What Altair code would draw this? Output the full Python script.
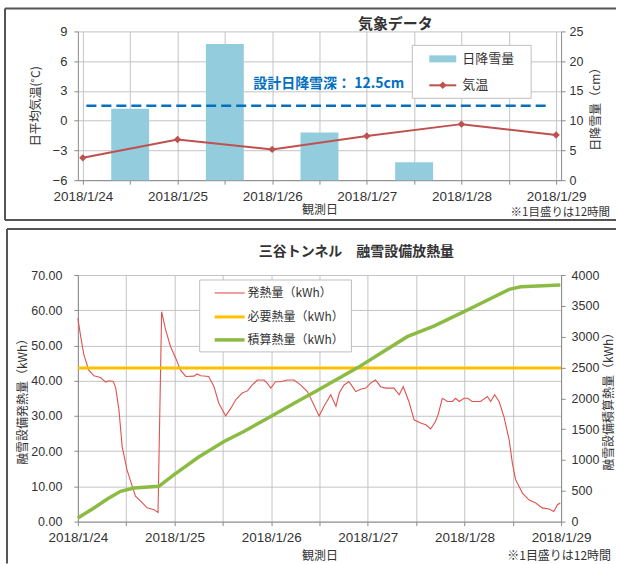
import json
import altair as alt
import pandas as pd

FONT = "Noto Sans CJK JP"
NUM_FONT = "Liberation Sans"

# ---------------- shared x axis ----------------
day_labels = ["2018/1/24", "2018/1/25", "2018/1/26", "2018/1/27", "2018/1/28", "2018/1/29"]
grid_hours = list(range(0, 121, 12))  # hours since 2018/1/24 00:00, one grid line every 12 h
x_title = "観測日"
note_text = "※1目盛りは12時間"

# ---------------- top chart: weather ----------------
top_title = "気象データ"
temp_hours = [0, 24, 48, 72, 96, 120]
temp_values = [-3.75, -1.9, -2.9, -1.55, -0.35, -1.45]
snow_hours = [12, 36, 60, 84, 108]
snow_values = [12.0, 22.9, 8.0, 3.0, 0.0]
design_snow_depth = 12.5
design_label = "設計日降雪深： 12.5cm"
top_series = ["日降雪量", "気温"]

# ---------------- bottom chart: heat ----------------
bottom_title = "三谷トンネル　融雪設備放熱量"
heat_hours = [0, 0.7, 1.5, 2.7, 4.0, 5.6, 6.9, 7.7, 8.8, 9.4, 10.2, 11.0, 12.2, 13.5, 14.3,
              15.6, 17.2, 18.9, 19.9, 20.8, 21.8, 23.0, 24.3, 25.5, 26.8, 28.8, 29.6, 30.5,
              32.5, 33.8, 35.0, 36.7, 38.0, 39.2, 40.8, 42.1, 43.3, 44.6, 46.2, 47.0, 47.9,
              49.1, 50.4, 52.0, 53.7, 55.3, 57.0, 58.2, 59.9, 61.1, 62.8, 64.1, 64.9, 66.1,
              67.3, 67.9, 69.0, 70.2, 71.5, 72.7, 73.9, 75.2, 76.4, 78.5, 79.8, 80.8, 82.2,
              83.5, 85.1, 86.4, 87.6, 88.8, 89.5, 90.5, 91.8, 93.0, 93.8, 94.7, 95.9, 96.8,
              97.9, 100.0, 101.7, 102.5, 103.5, 104.6, 105.8, 107.1, 107.9, 108.7, 110.4,
              112.0, 113.7, 115.3, 117.0, 118.2, 119.1, 119.8]
heat_values = [57.7, 52.5, 47.3, 43.0, 41.4, 40.9, 39.6, 40.0, 39.8, 37.9, 31.7, 21.3, 14.7, 10.0, 7.2,
               5.8, 3.9, 3.4, 2.6, 59.6, 54.4, 49.7, 46.4, 43.0, 41.2, 41.3, 41.9, 41.4,
               41.2, 38.3, 33.6, 30.0, 32.2, 34.6, 36.5, 37.1, 38.8, 40.2, 40.2, 39.3, 37.9,
               39.7, 39.7, 40.2, 40.2, 38.8, 36.9, 34.1, 30.0, 32.7, 36.0, 32.7, 36.5, 38.8,
               39.7, 38.8, 36.9, 37.6, 37.9, 39.3, 40.2, 38.3, 37.9, 37.9, 36.0, 38.3, 34.1,
               28.9, 28.0, 27.5, 26.3, 28.4, 30.5, 35.0, 34.1, 34.1, 35.0, 34.1, 35.0, 35.0,
               34.1, 34.1, 35.5, 34.1, 36.0, 34.1, 29.8, 23.2, 16.6, 11.9, 8.1,
               6.2, 5.3, 3.9, 3.6, 2.9, 4.8, 5.3]
cum_hours = [0, 4, 7.3, 10.6, 13.9, 20.1, 23.9, 30, 36.3, 41.2, 47.9, 53.7, 59.0, 69.5,
             75.2, 81.8, 88.4, 95.9, 100.9, 107.1, 110, 119.8]
cum_values = [60, 222, 367, 491, 545, 572, 761, 1047, 1300, 1462, 1705, 1921, 2110, 2498,
              2731, 3000, 3170, 3405, 3567, 3767, 3810, 3837]
required_hours = [0, 120]
required_values = [43.6, 43.6]
bottom_series = ["発熱量（kWh）", "必要熱量（kWh）", "積算熱量（kWh）"]

W = 484
H1 = 149
H2 = 247

C_BAR = "#93cddd"
C_TEMP = "#c0504d"
C_DESIGN = "#0070c0"
C_HEAT = "#e0524e"
C_REQ = "#ffc000"
C_CUM = "#8cbb44"
TXT = "#333333"

label_expr = ("datum.value % 24 == 0 ? " + json.dumps(day_labels, ensure_ascii=False)
              + "[datum.value / 24] : ''")
x_scale = alt.Scale(domain=[0, 120], nice=False, zero=False)


def x_axis(title_pad, label_pad):
    return alt.Axis(values=grid_hours, labelExpr=label_expr, title=x_title, grid=True,
                    labelPadding=label_pad, titlePadding=title_pad, labelFontSize=13.5,
                    labelOverlap=False, labelFlush=False)


one = pd.DataFrame({"k": [0]})


def frame_rule(x1, x2, y1, y2):
    return alt.Chart(one).mark_rule(color="#555555", strokeWidth=2).encode(
        x=alt.value(x1), x2=alt.value(x2), y=alt.value(y1), y2=alt.value(y2))


def label(text, x, y, size=12, align="left", weight="normal", color=TXT):
    return alt.Chart(one).mark_text(text=text, font=FONT, fontSize=size, align=align,
                                    baseline="middle", fontWeight=weight, color=color).encode(
        x=alt.value(x), y=alt.value(y))


# ---------------- top chart ----------------
snow_df = pd.DataFrame({"h": snow_hours, "cm": snow_values})
temp_df = pd.DataFrame({"h": temp_hours, "t": temp_values})
design_df = pd.DataFrame({"h": [0.9], "h1": [118.5], "cm": [design_snow_depth]})

top_x_axis = x_axis(2, 5)
cm_scale = alt.Scale(domain=[0, 25], nice=False)
cm_axis = alt.Axis(orient="right", values=[0, 5, 10, 15, 20, 25], title="日降雪量（cm）",
                   grid=False, titleAngle=270, titleBaseline="top", labelPadding=4, titlePadding=8)

bars = alt.Chart(snow_df).mark_bar(color=C_BAR, size=38).encode(
    x=alt.X("h:Q", scale=x_scale, axis=top_x_axis),
    y=alt.Y("cm:Q", scale=cm_scale, axis=cm_axis),
)
design_rule = alt.Chart(design_df).mark_rule(color=C_DESIGN, strokeWidth=2.5, strokeDash=[10, 5]).encode(
    x=alt.X("h:Q", scale=x_scale, axis=top_x_axis), x2="h1:Q",
    y=alt.Y("cm:Q", scale=cm_scale, axis=cm_axis),
)
design_text = alt.Chart(one).mark_text(text=design_label, font=FONT, fontSize=14, fontWeight="bold",
                                       color=C_DESIGN, align="left", baseline="middle").encode(
    x=alt.XDatum(43.2, scale=x_scale, axis=top_x_axis),
    y=alt.YDatum(16.1, scale=cm_scale, axis=cm_axis))
cm_layer = alt.layer(bars, design_rule, design_text)

temp_line = alt.Chart(temp_df).mark_line(
    color=C_TEMP, strokeWidth=2,
    point=alt.OverlayMarkDef(shape="diamond", size=55, color=C_TEMP, filled=True, opacity=1)).encode(
    x=alt.X("h:Q", scale=x_scale, axis=top_x_axis),
    y=alt.Y("t:Q", scale=alt.Scale(domain=[-6, 9], nice=False, zero=False),
            axis=alt.Axis(orient="left", values=[-6, -3, 0, 3, 6, 9], title="日平均気温(°C)",
                          grid=True, labelPadding=7, titlePadding=10, labelFontSize=13)),
)

top_legend = [
    alt.Chart(one).mark_rect(fill="white", stroke="#bfbfbf", strokeWidth=1).encode(
        x=alt.value(335), x2=alt.value(454), y=alt.value(14), y2=alt.value(67)),
    alt.Chart(one).mark_rect(color=C_BAR).encode(
        x=alt.value(352), x2=alt.value(379), y=alt.value(24), y2=alt.value(31)),
    label(top_series[0], 385, 27.5, size=13),
    alt.Chart(one).mark_rule(color=C_TEMP, strokeWidth=2).encode(
        x=alt.value(352), x2=alt.value(379), y=alt.value(54)),
    alt.Chart(one).mark_point(shape="diamond", size=55, filled=True, color=C_TEMP, opacity=1).encode(
        x=alt.value(365.5), y=alt.value(54)),
    label(top_series[1], 385, 54, size=13),
]

top_extras = [
    frame_rule(-73, 539, -23, -23),
    frame_rule(-73, -73, -23, 189),
    frame_rule(-73, 539, 189, 189),
    label(top_title, 318, -7, size=15, align="center", weight="bold"),
    label(note_text, 533, 181.5, size=11.5, align="right"),
] + top_legend

top_chart = alt.layer(cm_layer, temp_line, *top_extras).resolve_scale(y="independent").properties(
    width=W, height=H1)

# ---------------- bottom chart ----------------
heat_df = pd.DataFrame({"h": heat_hours, "kwh": heat_values})
req_df = pd.DataFrame({"h": required_hours, "kwh": required_values})
cum_df = pd.DataFrame({"h": cum_hours, "cum": cum_values})

bottom_x_axis = x_axis(6, 5)
kwh_scale = alt.Scale(domain=[0, 70], nice=False, zero=False)
kwh_axis = alt.Axis(orient="left", values=list(range(0, 71, 10)), format=".2f",
                    title="融雪設備発熱量（kWh）", grid=True, labelPadding=12, titlePadding=1)

heat_line = alt.Chart(heat_df).mark_line(color=C_HEAT, strokeWidth=1.1).encode(
    x=alt.X("h:Q", scale=x_scale, axis=bottom_x_axis),
    y=alt.Y("kwh:Q", scale=kwh_scale, axis=kwh_axis),
)
req_line = alt.Chart(req_df).mark_line(color=C_REQ, strokeWidth=3).encode(
    x=alt.X("h:Q", scale=x_scale, axis=bottom_x_axis),
    y=alt.Y("kwh:Q", scale=kwh_scale, axis=kwh_axis),
)
cum_line = alt.Chart(cum_df).mark_line(color=C_CUM, strokeWidth=3.5).encode(
    x=alt.X("h:Q", scale=x_scale, axis=bottom_x_axis),
    y=alt.Y("cum:Q", scale=alt.Scale(domain=[0, 4000], nice=False),
            axis=alt.Axis(orient="right", values=list(range(0, 4001, 500)), format="d",
                          title="融雪設備積算熱量（kWh）", grid=False, titleAngle=270,
                          titleBaseline="top", labelPadding=6, titlePadding=5)),
)

bottom_legend = [
    alt.Chart(one).mark_rect(fill="white", stroke="#bfbfbf", strokeWidth=1).encode(
        x=alt.value(122), x2=alt.value(274), y=alt.value(5), y2=alt.value(77)),
    alt.Chart(one).mark_rule(color=C_HEAT, strokeWidth=1.1).encode(
        x=alt.value(137), x2=alt.value(167), y=alt.value(18)),
    label(bottom_series[0], 170, 18),
    alt.Chart(one).mark_rule(color=C_REQ, strokeWidth=3).encode(
        x=alt.value(137), x2=alt.value(167), y=alt.value(42)),
    label(bottom_series[1], 170, 42),
    alt.Chart(one).mark_rule(color=C_CUM, strokeWidth=3.5).encode(
        x=alt.value(137), x2=alt.value(167), y=alt.value(65)),
    label(bottom_series[2], 170, 65),
]

bottom_extras = [
    frame_rule(-71, 539, -46, -46),
    frame_rule(-71, -71, -46, 289),
    label(bottom_title, 279, -23, size=14, align="center", weight="bold"),
    label(note_text, 534, 281, size=12, align="right"),
] + bottom_legend

bottom_chart = alt.layer(alt.layer(heat_line, req_line), cum_line, *bottom_extras).resolve_scale(
    y="independent").properties(width=W, height=H2)

chart = alt.vconcat(top_chart, bottom_chart, spacing=95, bounds="flush").properties(
    padding={"left": 4, "top": 7, "right": 0, "bottom": 0},
    background="white",
).configure_view(strokeWidth=0).configure_axis(
    labelFont=NUM_FONT, titleFont=FONT, labelFontSize=12.5, titleFontSize=12, titleFontWeight="normal",
    labelColor=TXT, titleColor=TXT, gridColor="#c4c4c4", gridWidth=1, domainColor="#8a8a8a",
    tickColor="#8a8a8a", tickSize=4,
)

chart.save("out.html", embed_options={"renderer": "svg", "actions": False})
